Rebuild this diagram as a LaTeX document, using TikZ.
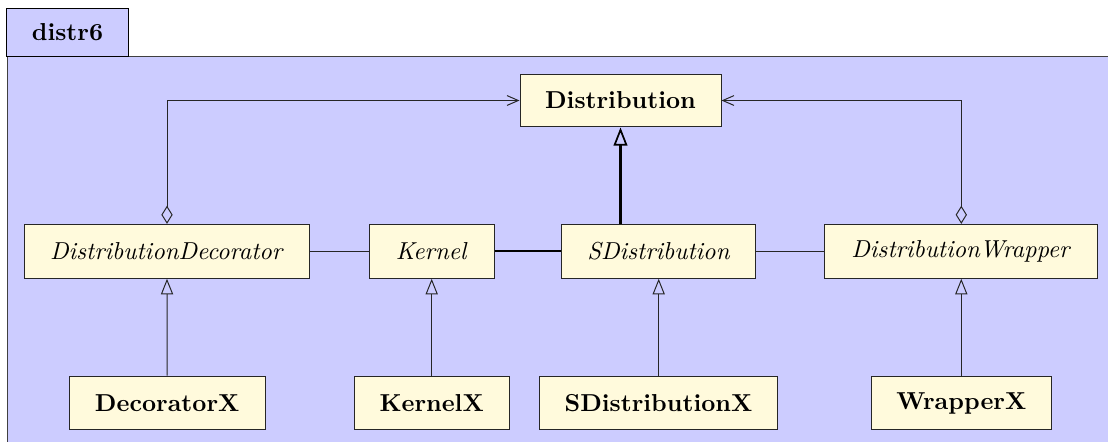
\documentclass[tikz,border=0pt]{standalone}
\usetikzlibrary{arrows.meta}
\definecolor{pkgfill}{RGB}{204,204,255}
\definecolor{clsfill}{RGB}{255,250,220}
\begin{document}
\begin{tikzpicture}[x=0.408pt,y=-0.408pt,
  cls/.style={draw=black!85, fill=clsfill, line width=0.4pt, inner sep=0pt, minimum height=22pt},
  conn/.style={draw=black!85, line width=0.4pt},
  thickconn/.style={draw=black, line width=0.9pt},
  inherit/.style={-{Triangle[open,length=6.4pt,width=5pt]}},
  biginherit/.style={-{Triangle[open,length=7.4pt,width=5.6pt,line width=0.7pt]}},
  aggr/.style={{Diamond[open,length=7.4pt,width=4.6pt]}-{Straight Barb[length=4.6pt,width=4pt]}},
  tabbox/.style={draw=black, fill=pkgfill, line width=0.4pt, inner sep=0pt, minimum width=49.4pt, minimum height=19.2pt, font=\bfseries}]
\useasboundingbox (0,0) rectangle (1108,441);
\clip (0,0) rectangle (1108,441);
% package frame
\draw[draw=black!75, fill=pkgfill, line width=0.4pt] (7,56) rectangle (1130,470);
\node[tabbox] (tab) at (67.5,32.5) {distr6};
% classes
\node[cls, minimum width=82pt, minimum height=21.6pt, font=\bfseries] (dist) at (620.5,100.5) {Distribution};
\node[cls, minimum width=116.6pt] (dd) at (167,251.3) {\textit{DistributionDecorator}};
\node[cls, minimum width=50.9pt] (k) at (431.7,251.3) {\textit{Kernel}};
\node[cls, minimum width=79.2pt] (sd) at (658.7,251.3) {\textit{SDistribution}};
\node[cls, minimum width=111.5pt] (dw) at (961.3,251.3) {\textit{DistributionWrapper}};
\node[cls, minimum width=79.8pt, font=\bfseries] (dx) at (167.2,403) {DecoratorX};
\node[cls, minimum width=63.4pt, font=\bfseries] (kx) at (431.7,403) {KernelX};
\node[cls, minimum width=97.3pt, font=\bfseries] (sdx) at (658.5,403) {SDistributionX};
\node[cls, minimum width=73.4pt, font=\bfseries] (wx) at (961.3,403) {WrapperX};
% associations in the middle row
\draw[conn] (dd.east) -- (k.west);
\draw[thickconn] (k.east) -- (sd.west);
\draw[conn] (sd.east) -- (dw.west);
% aggregations to Distribution
\draw[conn, aggr] (dd.north) |- (dist.west);
\draw[conn, aggr] (dw.north) |- (dist.east);
% inheritance
\draw[thickconn, biginherit] (sd.north -| dist.south) -- (dist.south);
\draw[conn, inherit] (dx.north) -- (dd.south);
\draw[conn, inherit] (kx.north) -- (k.south);
\draw[conn, inherit] (sdx.north -| sd.south) -- (sd.south);
\draw[conn, inherit] (wx.north) -- (dw.south);
\end{tikzpicture}
\end{document}
